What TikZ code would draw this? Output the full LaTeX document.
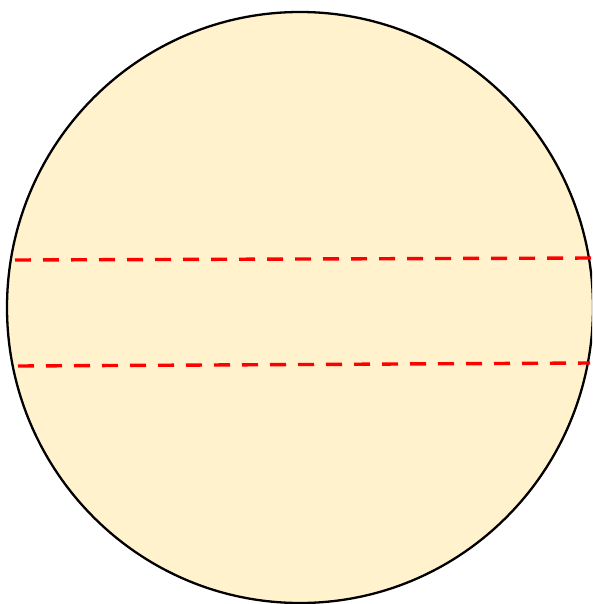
\documentclass[tikz,border=0pt]{standalone}
\usetikzlibrary{shapes.geometric}
\begin{document}
\begin{tikzpicture}[x=1pt,y=-1pt,
  disc/.style={draw=black,line width=2.3pt,fill=discfill},
  cutline/.style={draw=red,line width=3.4pt,dash pattern=on 16pt off 12pt}]
\definecolor{discfill}{HTML}{FFF2CC}
\useasboundingbox (0,0) rectangle (592,604);
\begin{scope}
\clip (0,0) rectangle (592,604);
\node[disc,ellipse,minimum width=586pt,minimum height=591pt,inner sep=0pt] (c) at (300,307.5) {};
\coordinate (a1) at (15,260);
\coordinate (a2) at (592,258);
\coordinate (b1) at (18,366);
\coordinate (b2) at (590,363);
\draw[cutline] (a1) -- (a2);
\draw[cutline] (b1) -- (b2);
\end{scope}
\end{tikzpicture}
\end{document}
